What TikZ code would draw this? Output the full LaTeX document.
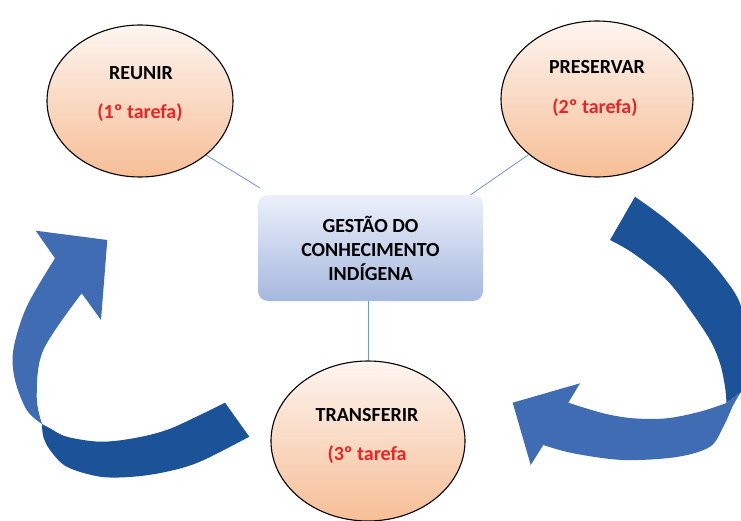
\documentclass[tikz,border=0pt]{standalone}
\usepackage{fontspec}
\setmainfont{Carlito}
\usetikzlibrary{shapes.geometric}
\definecolor{arrdark}{RGB}{28,82,152}
\definecolor{arrlight}{RGB}{63,108,178}
\definecolor{peachtop}{RGB}{253,245,240}
\definecolor{peachbot}{RGB}{246,190,150}
\definecolor{boxtop}{RGB}{236,240,250}
\definecolor{boxbot}{RGB}{165,184,222}
\definecolor{linkblue}{RGB}{110,150,215}
\definecolor{tred}{RGB}{236,36,36}
\begin{document}
\begin{tikzpicture}[x=1pt,y=-1pt,
  task/.style={ellipse, draw=black, line width=1.1pt, top color=peachtop, bottom color=peachbot, inner sep=0pt},
  title/.style={font=\fontsize{20}{24}\selectfont\bfseries, anchor=base},
  sub/.style={font=\fontsize{20}{24}\selectfont\bfseries, text=tred, anchor=base},
  hub/.style={rounded corners=10pt, top color=boxtop, bottom color=boxbot, minimum width=225pt, minimum height=106pt, align=center, font=\fontsize{20}{24}\selectfont\bfseries},
  link/.style={draw=linkblue, line width=0.8pt}]

\useasboundingbox[fill=white] (0,0) rectangle (741,521);

% left curved arrow
\fill[arrlight] plot[smooth,tension=0.55] coordinates {(42,424) (26.7,410) (15,380) (13.3,350) (26.7,306.7) (55,258.3)} -- (35.7,230.7) -- (107.3,240) -- (101,320) -- plot[smooth,tension=0.55] coordinates {(81.7,293.3) (43.3,350) (36.7,396.7) (42,424)} -- cycle;
\fill[arrdark] plot[smooth,tension=0.55] coordinates {(42,424) (50,428.3) (66.7,436.7) (100,441.7) (133.3,438.3) (166.7,430) (200,415) (225,402.7)} -- (249.3,436.7) -- plot[smooth,tension=0.55] coordinates {(249.3,436.7) (200,461.7) (166.7,471.7) (133.3,476.7) (100,476.7) (66.7,466.7) (50,450) (43.3,436.7) (42,424)} -- cycle;

% right curved arrow
\fill[arrdark] plot[smooth,tension=.55] coordinates {(741,392) (746,370) (747,340) (740,303.3) (723.3,276.7) (700,250) (666.7,220) (635,196.7)} -- (610,240) -- plot[smooth,tension=.55] coordinates {(610,240) (633.3,253.3) (666.7,280) (690,310) (710,340) (720,363.3) (725,386.7) (726.5,403)} -- cycle;
\fill[arrlight] plot[smooth,tension=.55] coordinates {(726.5,403) (700,411.7) (666.7,418.3) (633.3,418.3) (603.3,413.3) (568.3,402.7)} -- (580,383.3) -- (512.7,402.7) -- (530.7,465) -- plot[smooth,tension=.55] coordinates {(543.3,445) (573.3,453.3) (623.3,460) (676.7,457) (710,446.7) (723.3,426.7) (733.3,405) (741,392)} -- cycle;

% nodes
\node[task, minimum width=186pt, minimum height=152pt] (c1) at (140,101) {};
\node[task, minimum width=192pt, minimum height=156pt] (c2) at (597,99) {};
\node[task, minimum width=194pt, minimum height=160pt] (c3) at (368,441) {};
\node[hub] (box) at (370.5,248) {GESTÃO DO\\CONHECIMENTO\\INDÍGENA};

\node[title] (t1) at (141,80) {REUNIR};
\node[sub] (s1) at (140,119) {(1º tarefa)};
\node[title] (t2) at (597,74) {PRESERVAR};
\node[sub] (s2) at (595,114) {(2º tarefa)};
\node[title] (t3) at (367,421) {TRANSFERIR};
\node[sub] (s3) at (367,460) {(3º tarefa};

% connectors
\draw[link] (c1.south east) -- ([xshift=2pt,yshift=7pt]box.north west);
\draw[link] (c2.south west) -- (box.28);
\draw[link] (box.south -| c3.north) -- (c3.north);
\end{tikzpicture}
\end{document}
